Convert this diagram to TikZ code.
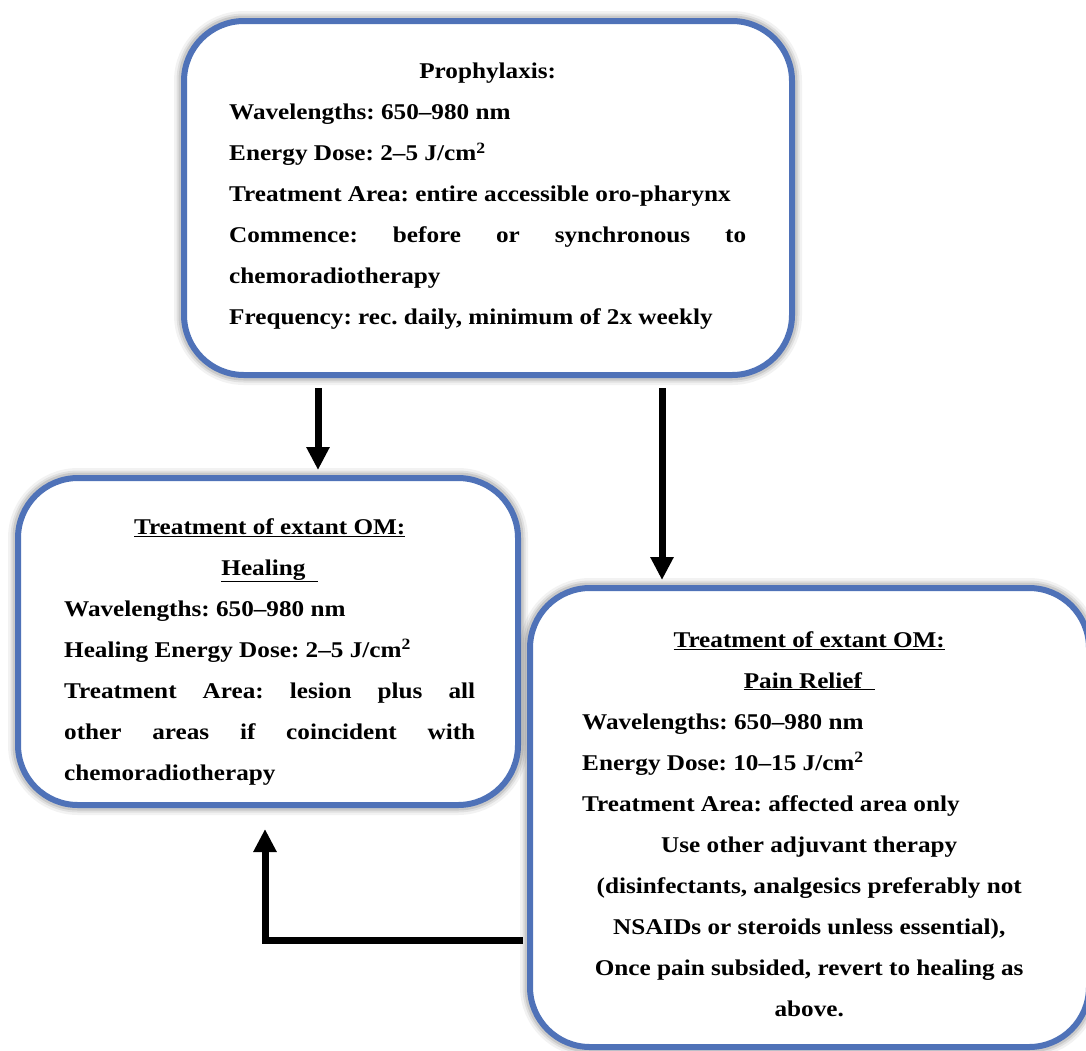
\documentclass[tikz,border=0pt]{standalone}
\usepackage{fontspec}
\setmainfont{Liberation Serif}[FakeStretch=1.12]
\usetikzlibrary{arrows.meta}
\definecolor{boxblue}{RGB}{79,114,184}
\tikzset{
  flowbox/.style={draw=boxblue, line width=6pt, rounded corners=60pt, fill=white,
    inner sep=0pt,
    preaction={draw=black, draw opacity=0.05, line width=20pt},
    preaction={draw=black, draw opacity=0.07, line width=15pt},
    preaction={draw=black, draw opacity=0.10, line width=11pt}},
  boxtext/.style={anchor=north west, inner sep=0pt, align=left,
    font=\frenchspacing\bfseries\fontsize{22.5}{41}\selectfont},
  arr/.style={line width=7pt, -{Triangle[width=22pt,length=23pt]}}
}
\newlength{\mywd}
\newcommand{\lineitem}[2][l]{\makebox[\mywd][#1]{#2}}
\begin{document}
\begin{tikzpicture}[x=1pt,y=-1pt]
\useasboundingbox (0,0) rectangle (1086,1050);
\clip (0,0) rectangle (1086,1050);
\fill[white] (0,0) rectangle (1086,1050);
% boxes
\node[flowbox, minimum width=608pt, minimum height=354pt] (top) at (488,198) {};
\node[flowbox, minimum width=500pt, minimum height=327pt] (left) at (268,641.5) {};
\node[flowbox, minimum width=559pt, minimum height=459pt] (right) at (809.5,817.5) {};
% texts
\node[boxtext] (toptext) at (229,63) {\global\mywd=517pt
  \lineitem[c]{Prophylaxis:}\\
  \lineitem{Wavelengths: 650–980 nm}\\
  \lineitem{Energy Dose: 2–5 J/cm\textsuperscript{2}}\\
  \lineitem{Treatment Area: entire accessible oro-pharynx}\\
  \lineitem[s]{Commence: before or synchronous to}\\
  \lineitem{chemoradiotherapy}\\
  \lineitem{Frequency: rec. daily, minimum of 2x weekly}};
\node[boxtext] (lefttext) at (64,518) {\global\mywd=411pt
  \lineitem[c]{\underline{Treatment of extant OM:}}\\
  \lineitem[c]{\underline{Healing\ \ }}\\
  \lineitem{Wavelengths: 650–980 nm}\\
  \lineitem{Healing Energy Dose: 2–5 J/cm\textsuperscript{2}}\\
  \lineitem[s]{Treatment Area: lesion plus all}\\
  \lineitem[s]{other areas if coincident with}\\
  \lineitem{chemoradiotherapy}};
\node[boxtext] (righttext) at (582,631) {\global\mywd=454pt
  \lineitem[c]{\underline{Treatment of extant OM:}}\\
  \lineitem[c]{\underline{Pain Relief\ \ }}\\
  \lineitem{Wavelengths: 650–980 nm}\\
  \lineitem{Energy Dose: 10–15 J/cm\textsuperscript{2}}\\
  \lineitem{Treatment Area: affected area only}\\
  \lineitem[c]{Use other adjuvant therapy}\\
  \lineitem[c]{(disinfectants, analgesics preferably not}\\
  \lineitem[c]{NSAIDs or steroids unless essential),}\\
  \lineitem[c]{Once pain subsided, revert to healing as}\\
  \lineitem[c]{above.}};
% arrows
\draw[arr, shorten <=10pt, shorten >=5pt] (318,0 |- top.south) -- (318,0 |- left.north);
\draw[arr, shorten <=10pt, shorten >=5pt] (662,0 |- top.south) -- (662,0 |- right.north);
\draw[arr, shorten <=4pt, shorten >=21pt] (right.west |- 0,940) -| (265,0 |- left.south);
\end{tikzpicture}
\end{document}
